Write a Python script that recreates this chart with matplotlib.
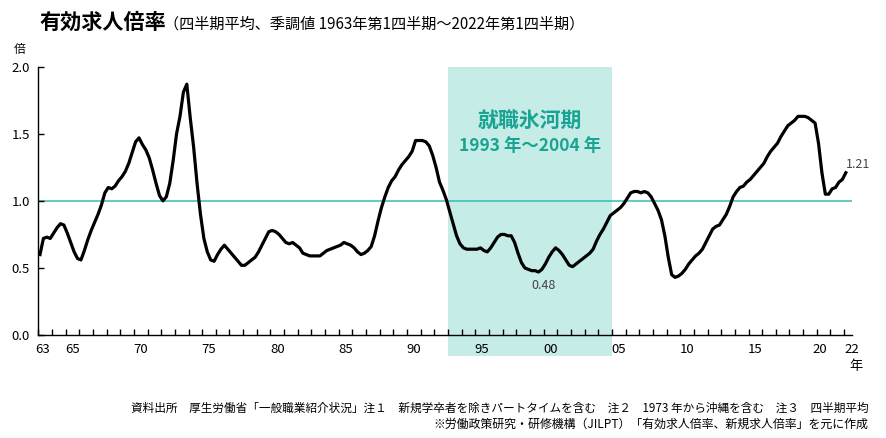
import numpy as np
import matplotlib.pyplot as plt
from matplotlib.patches import Rectangle

plt.rcParams['font.family'] = ['Noto Sans CJK JP', 'DejaVu Sans']

# quarterly values, 1963 Q1 .. 2022 Q1
start_year = 1963
ratio = [
    0.60, 0.72, 0.73, 0.72,  # 1963
    0.76, 0.80, 0.83, 0.82,  # 1964
    0.76, 0.69, 0.62, 0.57,  # 1965
    0.56, 0.63, 0.71, 0.78,  # 1966
    0.84, 0.90, 0.97, 1.06,  # 1967
    1.10, 1.09, 1.11, 1.15,  # 1968
    1.18, 1.22, 1.28, 1.36,  # 1969
    1.44, 1.47, 1.42, 1.38,  # 1970
    1.32, 1.23, 1.13, 1.04,  # 1971
    1.00, 1.03, 1.13, 1.30,  # 1972
    1.50, 1.63, 1.81, 1.87,  # 1973
    1.62, 1.40, 1.13, 0.90,  # 1974
    0.72, 0.62, 0.56, 0.55,  # 1975
    0.60, 0.64, 0.67, 0.64,  # 1976
    0.61, 0.58, 0.55, 0.52,  # 1977
    0.52, 0.54, 0.56, 0.58,  # 1978
    0.62, 0.67, 0.72, 0.77,  # 1979
    0.78, 0.77, 0.75, 0.72,  # 1980
    0.69, 0.68, 0.69, 0.67,  # 1981
    0.65, 0.61, 0.60, 0.59,  # 1982
    0.59, 0.59, 0.59, 0.61,  # 1983
    0.63, 0.64, 0.65, 0.66,  # 1984
    0.67, 0.69, 0.68, 0.67,  # 1985
    0.65, 0.62, 0.60, 0.61,  # 1986
    0.63, 0.66, 0.74, 0.85,  # 1987
    0.95, 1.03, 1.10, 1.15,  # 1988
    1.18, 1.23, 1.27, 1.30,  # 1989
    1.33, 1.37, 1.45, 1.45,  # 1990
    1.45, 1.44, 1.41, 1.34,  # 1991
    1.25, 1.14, 1.08, 1.01,  # 1992
    0.92, 0.83, 0.74, 0.68,  # 1993
    0.65, 0.64, 0.64, 0.64,  # 1994
    0.64, 0.65, 0.63, 0.62,  # 1995
    0.65, 0.69, 0.73, 0.75,  # 1996
    0.75, 0.74, 0.74, 0.69,  # 1997
    0.61, 0.54, 0.50, 0.49,  # 1998
    0.48, 0.48, 0.47, 0.49,  # 1999
    0.53, 0.58, 0.62, 0.65,  # 2000
    0.63, 0.60, 0.56, 0.52,  # 2001
    0.51, 0.53, 0.55, 0.57,  # 2002
    0.59, 0.61, 0.64, 0.70,  # 2003
    0.75, 0.79, 0.84, 0.89,  # 2004
    0.91, 0.93, 0.95, 0.98,  # 2005
    1.02, 1.06, 1.07, 1.07,  # 2006
    1.06, 1.07, 1.06, 1.03,  # 2007
    0.98, 0.93, 0.86, 0.74,  # 2008
    0.58, 0.45, 0.43, 0.44,  # 2009
    0.46, 0.49, 0.53, 0.56,  # 2010
    0.59, 0.61, 0.64, 0.69,  # 2011
    0.74, 0.79, 0.81, 0.82,  # 2012
    0.86, 0.90, 0.96, 1.03,  # 2013
    1.07, 1.10, 1.11, 1.14,  # 2014
    1.16, 1.19, 1.22, 1.25,  # 2015
    1.28, 1.33, 1.37, 1.40,  # 2016
    1.43, 1.48, 1.52, 1.56,  # 2017
    1.58, 1.60, 1.63, 1.63,  # 2018
    1.63, 1.62, 1.60, 1.58,  # 2019
    1.43, 1.21, 1.05, 1.05,  # 2020
    1.09, 1.10, 1.14, 1.16,  # 2021
    1.21,                    # 2022
]
label_years = [1963, 1965, 1970, 1975, 1980, 1985, 1990, 1995, 2000, 2005, 2010, 2015, 2020, 2022]
label_texts = ['63', '65', '70', '75', '80', '85', '90', '95', '00', '05', '10', '15', '20', '22']
ice_age = (1993, 2005)
min_label = '0.48'
last_label = '1.21'

teal = '#19a393'
band = '#c6ece8'

t = start_year + np.arange(len(ratio)) / 4 + 0.125

fig = plt.figure(figsize=(8.86, 4.38), dpi=100)
ax = fig.add_axes([0.0432, 0.235, 0.918, 0.6127])

ax.set_xlim(start_year, 2022.25)
ax.set_ylim(0, 2.0)

# shaded band for the employment ice age, reaching a bit below the axis
trans = ax.get_xaxis_transform()
ax.add_patch(Rectangle((ice_age[0], -0.078), ice_age[1] - ice_age[0], 1.078,
                       transform=trans, color=band, lw=0, clip_on=False, zorder=0))
ax.text(np.mean(ice_age), 1.60, '就職氷河期', color=teal, fontsize=15,
        fontweight='bold', ha='center', va='center')
ax.text(np.mean(ice_age), 1.41, '1993 年～2004 年', color=teal, fontsize=12.5,
        fontweight='bold', ha='center', va='center')

ax.axhline(1.0, color='#36bdb1', lw=1.1, zorder=1)
ax.plot(t, ratio, color='black', lw=2.3, zorder=3, solid_joinstyle='round')

ax.text(2000.0, 0.37, min_label, fontsize=9, color='#444444',
        ha='center', va='center')
ax.text(t[-1] + 0.9, 1.27, last_label, fontsize=9, color='#444444',
        ha='center', va='center')

for s in ['top', 'right']:
    ax.spines[s].set_visible(False)
for s in ['left', 'bottom']:
    ax.spines[s].set_linewidth(1.0)

ax.set_yticks([0, 0.5, 1.0, 1.5, 2.0])
ax.set_yticklabels(['0.0', '0.5', '1.0', '1.5', '2.0'], fontsize=9.5)
ax.tick_params(axis='y', direction='in', length=4, width=1, pad=6)

ax.set_xticks(np.arange(1963, 2023), minor=True)
pos = [y + 0.5 for y in label_years]
pos[0] = 1963.35
pos[-2] = 2020.25
pos[-1] = 2022.55
ax.set_xticks(pos)
ax.set_xticklabels(label_texts, fontsize=9.5)
ax.tick_params(axis='x', which='major', length=0, pad=6)
ax.tick_params(axis='x', which='minor', direction='in', length=4, width=1)

fig.text(0.0226, 0.888, '倍', fontsize=8.5, ha='center', va='center')
fig.text(0.966, 0.163, '年', fontsize=9.5, ha='center', va='center')

fig.text(0.045, 0.948, '有効求人倍率', fontsize=15.2, fontweight='bold',
         ha='left', va='center')
fig.text(0.185, 0.944, '（四半期平均、季調値 1963年第1四半期～2022年第1四半期）',
         fontsize=10.9, ha='left', va='center')

fig.text(0.98, 0.068,
         '資料出所　厚生労働省「一般職業紹介状況」注１　新規学卒者を除きパートタイムを含む　'
         '注２　1973 年から沖縄を含む　注３　四半期平均',
         fontsize=8.4, ha='right', va='center')
fig.text(0.98, 0.032,
         '※労働政策研究・研修機構（JILPT）「有効求人倍率、新規求人倍率」を元に作成',
         fontsize=8.6, ha='right', va='center')

fig.savefig('out.png', dpi=100)
